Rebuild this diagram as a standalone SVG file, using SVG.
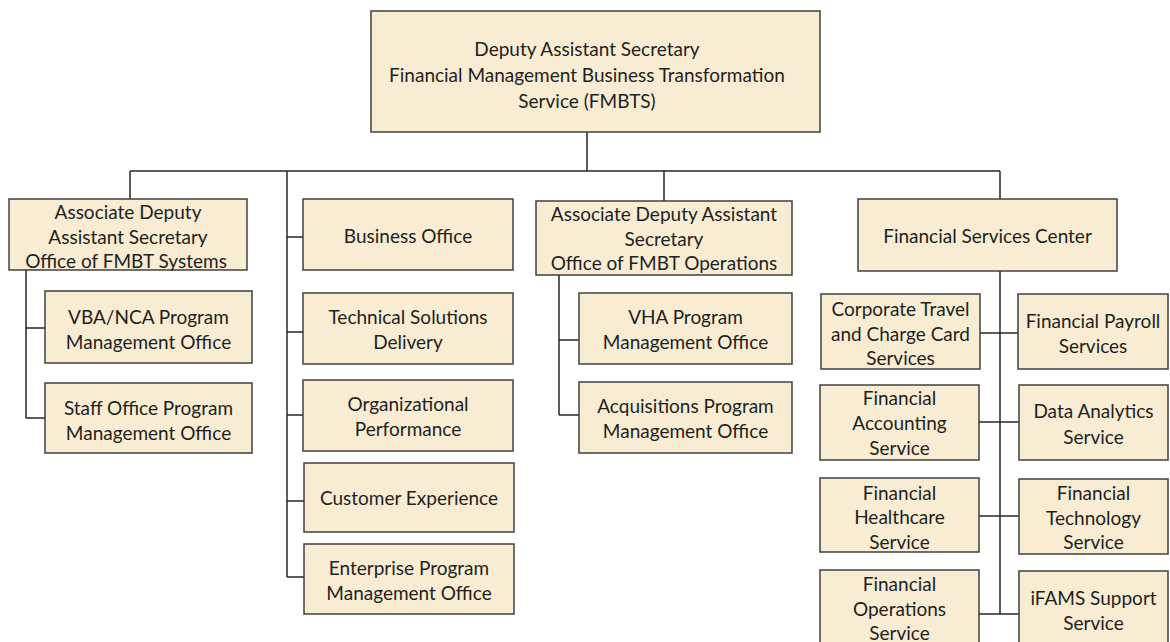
<svg xmlns="http://www.w3.org/2000/svg" width="1170" height="642" viewBox="0 0 1170 642">
<style>
.box{fill:#F8ECD3;stroke:#404040;stroke-width:1.5}
.t{font-family:Lato,"Open Sans","Liberation Sans",sans-serif;font-size:19px;fill:#1f1f1f;text-anchor:middle;dominant-baseline:central}
.c{fill:none;stroke:#262626;stroke-width:1.5}
</style>
<rect width="1170" height="642" fill="#FFFFFF"/>
<g id="connectors" class="c">
<path d="M587,132V171M130,171H1000M130,171V199M287,171V577M664,171V201M1000,171V199"/>
<path d="M26,270V418M26,328H45M26,418H45"/>
<path d="M287,237H303M287,332H303M287,415H303M287,501H304M287,577H304"/>
<path d="M559,275V415M559,340H579M559,415H579"/>
<path d="M1000,271V614M980,333H1018M979,422H1019M979,516H1019M979,614H1019"/>
</g>
<g id="n-top"><rect class="box" x="371" y="11" width="449" height="121"/>
<text class="t" x="587" y="48">Deputy Assistant Secretary</text>
<text class="t" x="587" y="74">Financial Management Business Transformation</text>
<text class="t" x="587" y="100">Service (FMBTS)</text></g>
<g id="n-adas-sys"><rect class="box" x="9" y="199" width="238" height="71"/>
<text class="t" x="128" y="211">Associate Deputy</text>
<text class="t" x="128" y="236">Assistant Secretary</text>
<text class="t" x="126" y="260">Office of FMBT Systems</text></g>
<g id="n-vba"><rect class="box" x="45" y="291" width="207" height="72"/>
<text class="t" x="148.5" y="316">VBA/NCA Program</text>
<text class="t" x="148.5" y="341">Management Office</text></g>
<g id="n-staff"><rect class="box" x="45" y="383" width="207" height="70"/>
<text class="t" x="148.5" y="407">Staff Office Program</text>
<text class="t" x="148.5" y="432">Management Office</text></g>
<g id="n-business"><rect class="box" x="303" y="199" width="210" height="71"/>
<text class="t" x="408" y="235">Business Office</text></g>
<g id="n-tech"><rect class="box" x="303" y="293" width="210" height="71"/>
<text class="t" x="408" y="316">Technical Solutions</text>
<text class="t" x="408" y="341">Delivery</text></g>
<g id="n-org"><rect class="box" x="303" y="380" width="210" height="71"/>
<text class="t" x="408" y="403">Organizational</text>
<text class="t" x="408" y="428">Performance</text></g>
<g id="n-cx"><rect class="box" x="304" y="463" width="210" height="69"/>
<text class="t" x="409" y="497">Customer Experience</text></g>
<g id="n-epmo"><rect class="box" x="304" y="544" width="210" height="70"/>
<text class="t" x="409" y="567">Enterprise Program</text>
<text class="t" x="409" y="592">Management Office</text></g>
<g id="n-adas-ops"><rect class="box" x="536" y="201" width="256" height="74"/>
<text class="t" x="664" y="213">Associate Deputy Assistant</text>
<text class="t" x="664" y="238">Secretary</text>
<text class="t" x="664" y="262">Office of FMBT Operations</text></g>
<g id="n-vha"><rect class="box" x="579" y="293" width="213" height="71"/>
<text class="t" x="685.5" y="316">VHA Program</text>
<text class="t" x="685.5" y="341">Management Office</text></g>
<g id="n-acq"><rect class="box" x="579" y="382" width="213" height="71"/>
<text class="t" x="685.5" y="405">Acquisitions Program</text>
<text class="t" x="685.5" y="430">Management Office</text></g>
<g id="n-fsc"><rect class="box" x="858" y="199" width="259" height="72"/>
<text class="t" x="987.5" y="235">Financial Services Center</text></g>
<g id="n-ctcc"><rect class="box" x="821" y="294" width="159" height="75"/>
<text class="t" x="900.5" y="308">Corporate Travel</text>
<text class="t" x="900.5" y="333">and Charge Card</text>
<text class="t" x="900.5" y="357">Services</text></g>
<g id="n-payroll"><rect class="box" x="1018" y="294" width="150" height="75"/>
<text class="t" x="1093" y="320">Financial Payroll</text>
<text class="t" x="1093" y="345">Services</text></g>
<g id="n-acct"><rect class="box" x="820" y="385" width="159" height="75"/>
<text class="t" x="899.5" y="397">Financial</text>
<text class="t" x="899.5" y="422">Accounting</text>
<text class="t" x="899.5" y="447">Service</text></g>
<g id="n-data"><rect class="box" x="1019" y="385" width="149" height="75"/>
<text class="t" x="1093.5" y="410">Data Analytics</text>
<text class="t" x="1093.5" y="436">Service</text></g>
<g id="n-health"><rect class="box" x="820" y="478" width="159" height="74"/>
<text class="t" x="899.5" y="492">Financial</text>
<text class="t" x="899.5" y="516">Healthcare</text>
<text class="t" x="899.5" y="541">Service</text></g>
<g id="n-techsvc"><rect class="box" x="1019" y="479" width="149" height="75"/>
<text class="t" x="1093.5" y="492">Financial</text>
<text class="t" x="1093.5" y="517">Technology</text>
<text class="t" x="1093.5" y="541">Service</text></g>
<g id="n-ops"><rect class="box" x="820" y="570" width="159" height="80"/>
<text class="t" x="899.5" y="583">Financial</text>
<text class="t" x="899.5" y="608">Operations</text>
<text class="t" x="899.5" y="632">Service</text></g>
<g id="n-ifams"><rect class="box" x="1019" y="571" width="149" height="80"/>
<text class="t" x="1093.5" y="597">iFAMS Support</text>
<text class="t" x="1093.5" y="622">Service</text></g>
</svg>
